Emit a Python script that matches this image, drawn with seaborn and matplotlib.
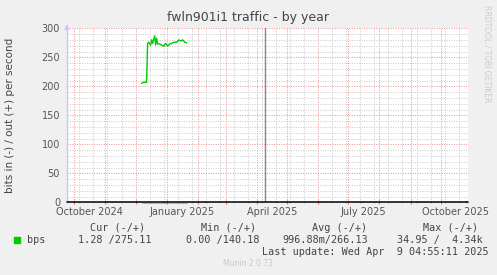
import matplotlib
matplotlib.use("Agg")
import numpy as np
import pandas as pd
import seaborn as sns
import matplotlib.pyplot as plt
import matplotlib.dates as mdates
from matplotlib.ticker import FixedLocator, MultipleLocator

# ---------------- data ----------------
dates = ["2024-12-07", "2024-12-09", "2024-12-12", "2024-12-13", "2024-12-14",
         "2024-12-16", "2024-12-17", "2024-12-18", "2024-12-20", "2024-12-21",
         "2024-12-22", "2024-12-23", "2024-12-25", "2024-12-27", "2024-12-29",
         "2024-12-31", "2025-01-02", "2025-01-04", "2025-01-06", "2025-01-08",
         "2025-01-11", "2025-01-13", "2025-01-15", "2025-01-17", "2025-01-19",
         "2025-01-21"]
out_bps = [205, 207, 207, 274, 276,
           271, 280, 274, 287, 271,
           283, 273, 273, 271, 269,
           274, 269, 273, 274, 276,
           276, 280, 278, 280, 276,
           275]
in_bps = [-1.0] * len(dates)

now_date = "2025-04-09"
x_start, x_end = "2024-09-23 16:00", "2025-10-28 00:00"
y_ticks = [0, 50, 100, 150, 200, 250, 300]
x_label_dates = ["2024-10-16", "2025-01-16", "2025-04-16", "2025-07-16", "2025-10-16"]
x_labels = ["October 2024", "January 2025", "April 2025", "July 2025", "October 2025"]

title = "fwln901i1 traffic - by year"
ylabel = "bits in (-) / out (+) per second"
legend_head = ["Cur (-/+)", "Min (-/+)", "Avg (-/+)", "Max (-/+)"]
legend_name = "bps"
legend_vals = ["1.28 /275.11", "0.00 /140.18", "996.88m/266.13", "34.95 /  4.34k"]
last_update = "Last update: Wed Apr  9 04:55:11 2025"
footer = "Munin 2.0.73"
side_text = "RRDTOOL / TOBI OETIKER"

# ---------------- figure ----------------
sns.set_theme(style="white")
plt.rcParams["font.family"] = ["DejaVu Sans"]

W, H = 497, 275
fig = plt.figure(figsize=(W / 100, H / 100), dpi=100, facecolor="#F0F0F0")
ax = fig.add_axes([67 / W, (H - 202.3) / H, 400.7 / W, 174 / H])
ax.set_facecolor("white")

df = pd.DataFrame({"date": pd.to_datetime(dates), "out": out_bps, "in": in_bps})
green = "#00CC00"
sns.lineplot(data=df, x="date", y="out", ax=ax, color=green, lw=1.0, zorder=5)
sns.lineplot(data=df, x="date", y="in", ax=ax, color=green, lw=0.6, alpha=0.6, zorder=3)
for ln in ax.lines:
    ln.set_clip_on(False)

ax.set_xlim(pd.Timestamp(x_start), pd.Timestamp(x_end))
ax.set_ylim(0, 300)

# grids
months = pd.date_range("2024-10-01", "2025-10-01", freq="MS")
biweek = pd.date_range("2024-09-22", "2025-11-01", freq="14D")
ax.xaxis.set_major_locator(FixedLocator(mdates.date2num(months)))
ax.xaxis.set_minor_locator(FixedLocator(mdates.date2num(biweek)))
ax.yaxis.set_major_locator(FixedLocator(y_ticks))
ax.yaxis.set_minor_locator(MultipleLocator(10))
ax.grid(which="minor", color="#C8C8C8", lw=0.7, linestyle=(0, (1, 1.5)), zorder=0)
ax.grid(which="major", color="#EE9090", lw=0.7, linestyle=(0, (1, 1.5)), zorder=1)
ax.set_axisbelow(True)

ax.tick_params(axis="x", which="major", length=3, color="#EE7070", direction="inout",
               labelbottom=False, bottom=True, width=0.8)
ax.tick_params(axis="x", which="minor", length=2, color="#BBBBBB", direction="inout",
               bottom=True, width=0.8)
ax.tick_params(axis="y", which="both", length=0, pad=5, labelsize=7, labelcolor="#555555")
ax.set_xlabel("")
ax.set_ylabel("")

sec = ax.secondary_xaxis("bottom")
sec.set_xticks(mdates.date2num(pd.to_datetime(x_label_dates)))
sec.set_xticklabels(x_labels)
sec.tick_params(length=0, pad=3.5, labelsize=7, labelcolor="#555555")
sec.spines["bottom"].set_visible(False)

for s in ["top", "right", "bottom"]:
    ax.spines[s].set_visible(False)
ax.spines["left"].set_color("#C8C8F4")
ax.spines["left"].set_linewidth(1.0)

ax.axhline(0, color="black", lw=1.1, zorder=4, clip_on=False)
ax.axvline(pd.Timestamp(now_date), color="#888888", lw=1.0, zorder=3)

arrow_c = "#C8C8F4"
ax.annotate("", xy=(0, 1.04), xytext=(0, 0.99), xycoords="axes fraction",
            arrowprops=dict(arrowstyle="-|>", color=arrow_c, lw=1.0, mutation_scale=7))
ax.annotate("", xy=(1.013, 0), xytext=(0.99, 0), xycoords="axes fraction",
            arrowprops=dict(arrowstyle="-|>", color=arrow_c, lw=0, mutation_scale=7))

# texts
fig.text(248 / W, 1 - 18 / H, title, ha="center", va="center", fontsize=9, color="#444444")
fig.text(10 / W, 1 - 115 / H, ylabel, ha="center", va="center", rotation=90,
         fontsize=7.5, color="#444444")
fig.text(487.5 / W, 1 - 5 / H, side_text, ha="center", va="top", rotation=-90,
         fontsize=5.5, color="#CCCCCC")

mono = dict(family="DejaVu Sans Mono", fontsize=7.3, color="#444444", va="center", ha="left")
head_x = [90, 201, 311.7, 422.7]
for hx, t in zip(head_x, legend_head):
    fig.text(hx / W, 1 - 227.7 / H, t, **mono)
val_x = [78.3, 186, 282.7, 396.7]
for vx, t in zip(val_x, legend_vals):
    fig.text(vx / W, 1 - 239.7 / H, t, **mono)
fig.text(26.7 / W, 1 - 239.7 / H, legend_name, **mono)
fig.patches.append(plt.Rectangle((14 / W, 1 - 243 / H), 6 / W, 6 / H,
                                 transform=fig.transFigure, color=green))
fig.text(261.7 / W, 1 - 251.7 / H, last_update, **mono)
fig.text(248 / W, 1 - 264 / H, footer, ha="center", va="center", fontsize=5.5, color="#C8C8C8")

fig.savefig("out.png", dpi=100, facecolor=fig.get_facecolor())
